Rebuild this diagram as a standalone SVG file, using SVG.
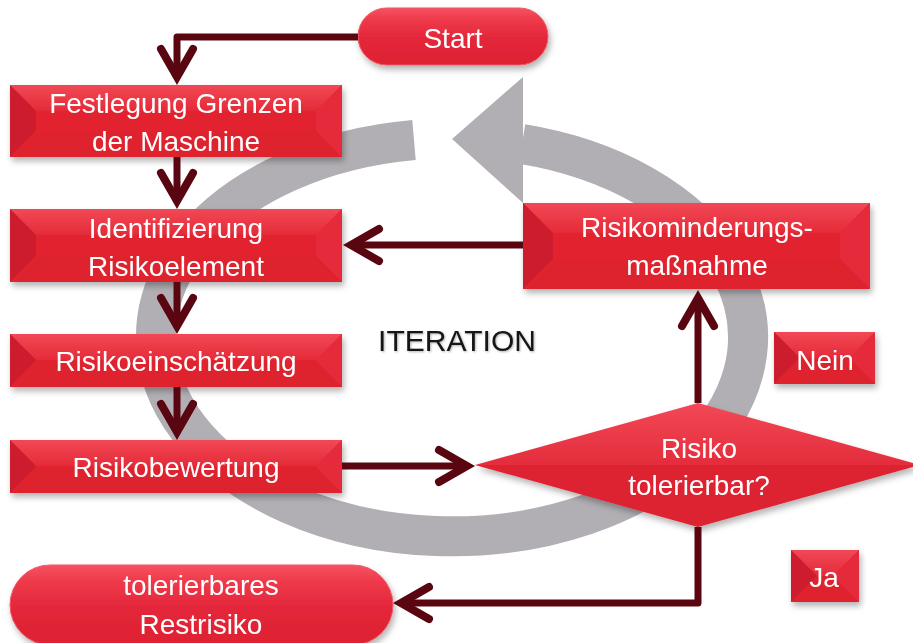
<svg xmlns="http://www.w3.org/2000/svg" width="913" height="643" viewBox="0 0 913 643">
<defs>
<style>
.t{font-family:"Liberation Sans",Arial,sans-serif;font-size:28px;fill:#ffffff;text-anchor:middle}
.it{font-family:"Liberation Sans",Arial,sans-serif;font-size:30px;fill:#151515;text-anchor:middle}
.face{fill:#e2232f}
.tf{fill:url(#topG)}
.lf{fill:#cd1f2d}
.rf{fill:#e52c3a}
.bf{fill:#de202e}
.con{fill:none;stroke:#5a0611;stroke-width:7;stroke-linejoin:round;marker-end:url(#chev)}
</style>
<linearGradient id="topG" x1="0" y1="0" x2="0" y2="1">
<stop offset="0" stop-color="#f24856"/>
<stop offset="1" stop-color="#e52b39"/>
</linearGradient>
<linearGradient id="pillG" x1="0" y1="0" x2="0" y2="1">
<stop offset="0" stop-color="#f65262"/>
<stop offset="0.2" stop-color="#ee3a4a"/>
<stop offset="0.55" stop-color="#e3263a"/>
<stop offset="1" stop-color="#df2232"/>
</linearGradient>
<linearGradient id="diaTop" x1="0" y1="0" x2="0" y2="1">
<stop offset="0" stop-color="#f24857"/>
<stop offset="1" stop-color="#e42d3c"/>
</linearGradient>
<filter id="sh" x="-10%" y="-20%" width="120%" height="150%">
<feDropShadow dx="2" dy="4" stdDeviation="3" flood-color="#000" flood-opacity="0.3"/>
</filter>
<filter id="tsh" x="-10%" y="-30%" width="120%" height="160%">
<feDropShadow dx="1" dy="1" stdDeviation="1.2" flood-color="#000" flood-opacity="0.3"/>
</filter>
<marker id="chev" viewBox="-40 -22 50 44" refX="0" refY="0" markerWidth="50" markerHeight="44" markerUnits="userSpaceOnUse" orient="auto" overflow="visible">
<path d="M -28,-16 L 0,0 L -28,16" fill="none" stroke="#5a0611" stroke-width="8" stroke-linecap="round" stroke-linejoin="miter"/>
</marker>
</defs>
<rect width="913" height="643" fill="#ffffff"/>

<g id="iteration-arrow">
<path d="M 414,140 A 296 199 0 1 0 522,144" fill="none" stroke="#b2afb4" stroke-width="40"/>
<polygon points="523,77 452,139 523,203" fill="#b2afb4"/>
</g>

<g id="n-iteration"><text class="it" x="457" y="351" filter="url(#tsh)">ITERATION</text></g>

<g id="n-start" filter="url(#sh)">
<rect x="358" y="8" width="190" height="57" rx="28.5" fill="url(#pillG)" stroke="#f05a66" stroke-width="1"/>
<text class="t" x="453" y="48">Start</text>
</g>

<g id="n-festlegung" filter="url(#sh)">
<rect class="face" x="10" y="85" width="332" height="72"/>
<polygon class="tf" points="10,85 342,85 316,111 36,111"/>
<polygon class="lf" points="10,85 36,111 36,131 10,157"/>
<polygon class="rf" points="342,85 316,111 316,131 342,157"/>
<polygon class="bf" points="10,157 36,131 316,131 342,157"/>
<rect class="face" x="36" y="111" width="280" height="20"/>
<text class="t" x="176" y="113">Festlegung Grenzen</text>
<text class="t" x="176" y="151">der Maschine</text>
</g>

<g id="n-identifizierung" filter="url(#sh)">
<rect class="face" x="10" y="209" width="332" height="73"/>
<polygon class="tf" points="10,209 342,209 316,235 36,235"/>
<polygon class="lf" points="10,209 36,235 36,256 10,282"/>
<polygon class="rf" points="342,209 316,235 316,256 342,282"/>
<polygon class="bf" points="10,282 36,256 316,256 342,282"/>
<rect class="face" x="36" y="235" width="280" height="21"/>
<text class="t" x="176" y="238">Identifizierung</text>
<text class="t" x="176" y="276">Risikoelement</text>
</g>

<g id="n-einschaetzung" filter="url(#sh)">
<rect class="face" x="10" y="334" width="332" height="53"/>
<polygon class="tf" points="10,334 342,334 316,360 36,360"/>
<polygon class="lf" points="10,334 36,360 36,361 10,387"/>
<polygon class="rf" points="342,334 316,360 316,361 342,387"/>
<polygon class="bf" points="10,387 36,361 316,361 342,387"/>
<text class="t" x="176" y="371">Risikoeinschätzung</text>
</g>

<g id="n-bewertung" filter="url(#sh)">
<rect class="face" x="10" y="440" width="332" height="53"/>
<polygon class="tf" points="10,440 342,440 316,466 36,466"/>
<polygon class="lf" points="10,440 36,466 36,467 10,493"/>
<polygon class="rf" points="342,440 316,466 316,467 342,493"/>
<polygon class="bf" points="10,493 36,467 316,467 342,493"/>
<text class="t" x="176" y="477">Risikobewertung</text>
</g>

<g id="n-minderung" filter="url(#sh)">
<rect class="face" x="523" y="203" width="347" height="86"/>
<polygon class="tf" points="523,203 870,203 840,233 553,233"/>
<polygon class="lf" points="523,203 553,233 553,259 523,289"/>
<polygon class="rf" points="870,203 840,233 840,259 870,289"/>
<polygon class="bf" points="523,289 553,259 840,259 870,289"/>
<rect class="face" x="553" y="233" width="287" height="26"/>
<text class="t" x="697" y="237">Risikominderungs-</text>
<text class="t" x="697" y="275">maßnahme</text>
</g>

<g id="n-nein" filter="url(#sh)">
<rect class="face" x="774" y="332" width="101" height="52"/>
<polygon class="tf" points="774,332 875,332 849,358 800,358"/>
<polygon class="lf" points="774,332 800,358 774,384"/>
<polygon class="rf" points="875,332 849,358 875,384"/>
<polygon class="bf" points="774,384 800,358 849,358 875,384"/>
<text class="t" x="825" y="370">Nein</text>
</g>

<g id="n-ja" filter="url(#sh)">
<rect class="face" x="791" y="550" width="68" height="52"/>
<polygon class="tf" points="791,550 859,550 833,576 817,576"/>
<polygon class="lf" points="791,550 817,576 791,602"/>
<polygon class="rf" points="859,550 833,576 859,602"/>
<polygon class="bf" points="791,602 817,576 833,576 859,602"/>
<text class="t" x="824" y="587">Ja</text>
</g>

<g id="n-entscheidung" filter="url(#sh)">
<polygon points="475,465 698,403 920,465" fill="url(#diaTop)"/>
<polygon points="475,465 920,465 698,527" fill="#dd2230"/>
<text class="t" x="699" y="458">Risiko</text>
<text class="t" x="699" y="495">tolerierbar?</text>
</g>

<g id="n-restrisiko" filter="url(#sh)">
<rect x="10" y="565" width="383" height="80" rx="40" fill="url(#pillG)" stroke="#f05a66" stroke-width="1"/>
<text class="t" x="201" y="595">tolerierbares</text>
<text class="t" x="201" y="634">Restrisiko</text>
</g>

<g id="connectors">
<path class="con" d="M 358,37 H 177 V 77"/>
<path class="con" d="M 177,157 V 201"/>
<path class="con" d="M 177,282 V 326"/>
<path class="con" d="M 177,387 V 432"/>
<path class="con" d="M 342,466 H 467"/>
<path class="con" d="M 523,245 H 351"/>
<path class="con" d="M 698,403 V 298"/>
<path class="con" d="M 698,527 V 603 H 401"/>
</g>
</svg>
